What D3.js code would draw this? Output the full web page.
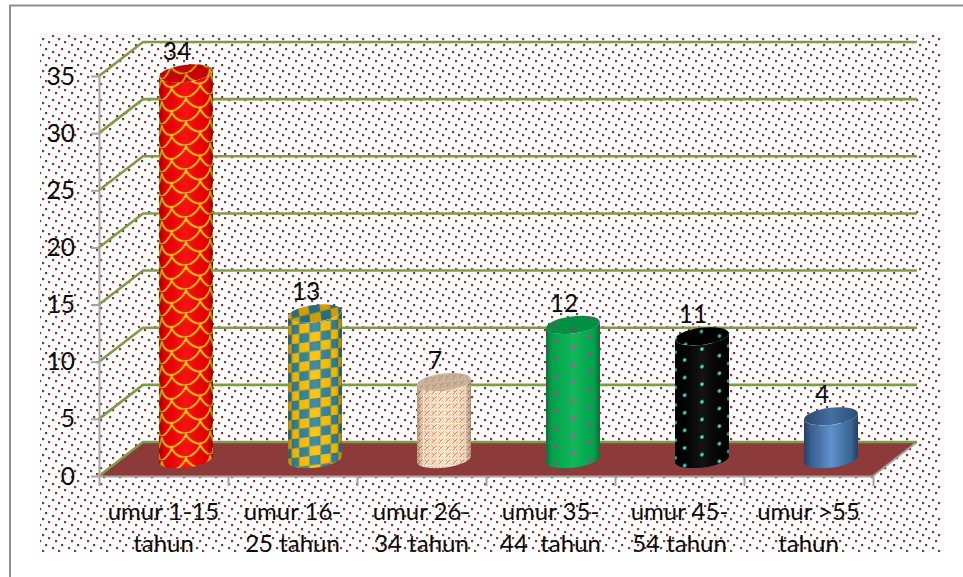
<!DOCTYPE html>
<html>
<head>
<meta charset="utf-8">
<script src="https://cdnjs.cloudflare.com/ajax/libs/d3/7.8.5/d3.min.js"></script>
<style>
html,body{margin:0;padding:0;background:#fff;overflow:hidden}
svg{display:block}
text{font-family:Lato,"Noto Sans",sans-serif;fill:#0c0c0c;white-space:pre}
</style>
</head>
<body>
<svg id="chart" width="963" height="577"></svg>
<script>
// Age groups, each split over the two lines it is set on below the axis
const categories = [
  ["umur 1-15", "tahun"],
  ["umur 16-", "25 tahun"],
  ["umur 26-", "34 tahun"],
  ["umur 35-", "44  tahun"],
  ["umur 45-", "54 tahun"],
  ["umur >55", "tahun"]
];
const values = [34, 13, 7, 12, 11, 4];
const yTicks = [0, 5, 10, 15, 20, 25, 30, 35];
const fills = ["scales", "checks", "weave", "greenDots", "blackDots", "blue"];

const W = 963, H = 577;
const plot = {left: 99, right: 873, top: 76, bottom: 476};
const depth = {x: 44, y: 34};
const cyl = {r: 27, ry: 8.5, tilt: 3.5, sink: 3};
const brown = "#8c3a3a", dotBrown = "#8f3636", grid = "#7f9a48", axisGrey = "#a3a3a3";

const svg = d3.select("#chart");
const defs = svg.append("defs");

const x = d3.scaleBand().domain(d3.range(categories.length)).range([plot.left, plot.right]);
const edge = d3.scaleLinear().domain([0, categories.length]).range([plot.left, plot.right]);
const y = d3.scaleLinear().domain([0, 35]).range([plot.bottom, plot.top]);
const cx = i => x(i) + x.bandwidth() / 2 + depth.x / 2 + 0.5;
const floorY = v => y(v) - depth.y / 2;
const topY = v => floorY(v) + cyl.sink;

// Dotted page texture: small dots on a tilted square lattice
const bg = defs.append("pattern").attr("id", "paper")
  .attr("patternUnits", "userSpaceOnUse").attr("width", 16).attr("height", 16)
  .attr("x", 10).attr("y", 6);
bg.append("rect").attr("width", 16).attr("height", 16).attr("fill", "#fff");
d3.range(5).forEach(k => bg.append("rect")
  .attr("x", Math.round((k * 6.4) % 16)).attr("y", Math.round(k * 3.2))
  .attr("width", 2.2).attr("height", 2.2).attr("fill", dotBrown));

// Wraps a flat offset around the cylinder so columns crowd towards the edges
const wrap = a => cyl.r * Math.sin(a);
const wrappedPattern = (id, i, h) => defs.append("pattern").attr("id", id)
  .attr("patternUnits", "userSpaceOnUse").attr("width", cyl.r * 2 + 2).attr("height", h)
  .attr("x", cx(i) - cyl.r - 1).attr("y", 0)
  .attr("patternTransform", `translate(0,${floorY(0)}) skewY(-7) translate(0,${-floorY(0)})`)
  .append("g").attr("transform", `translate(${cyl.r + 1},0)`);

// Red fish scales
{
  const g = wrappedPattern("scales", 0, 24);
  g.append("rect").attr("x", -cyl.r - 1).attr("width", cyl.r * 2 + 2).attr("height", 24).attr("fill", "#f40000");
  const line = d3.line();
  [0, 1].forEach(row => {
    const pts = [];
    for (let a = -90; a <= 90; a += 2) {
      const phase = (a + row * 32 + 320) % 64 / 64;
      pts.push([wrap(a * Math.PI / 180), row * 12 + 1 + 11 * Math.pow(Math.sin(phase * Math.PI), 0.7)]);
    }
    g.append("path").attr("d", line(pts)).attr("fill", "none")
      .attr("stroke", "#f7d40c").attr("stroke-width", 1.9);
  });
}

// Yellow and teal checks
{
  const g = wrappedPattern("checks", 1, 19);
  g.append("rect").attr("x", -cyl.r - 1).attr("width", cyl.r * 2 + 2).attr("height", 19).attr("fill", "#ffc000");
  d3.range(-4, 4).forEach(c => {
    const a0 = Math.max(-90, c * 24 + 12) * Math.PI / 180;
    const a1 = Math.min(90, (c + 1) * 24 + 12) * Math.PI / 180;
    g.append("rect").attr("x", wrap(a0)).attr("y", ((c % 2) + 2) % 2 ? 0 : 9.5)
      .attr("width", Math.max(0, wrap(a1) - wrap(a0))).attr("height", 9.5)
      .attr("fill", "#31849b");
  });
}

// Orange and white weave
{
  const p = defs.append("pattern").attr("id", "weave")
    .attr("patternUnits", "userSpaceOnUse").attr("width", 7).attr("height", 7);
  p.append("rect").attr("width", 7).attr("height", 7).attr("fill", "#fde4cc");
  p.append("path").attr("d", "M0,7L7,0M-1,1L1,-1M6,8L8,6").attr("stroke", "#ef8a35").attr("stroke-width", 1);
  p.append("path").attr("d", "M0,0L7,7M-1,6L1,8M6,-1L8,1").attr("stroke", "#ee9548").attr("stroke-width", 0.8);
  p.append("rect").attr("x", 2.4).attr("y", 2.4).attr("width", 2.2).attr("height", 2.2).attr("fill", "#fff");
  p.append("rect").attr("x", 0).attr("y", 0).attr("width", 1.4).attr("height", 1.4).attr("fill", "#fff");
}

// Sparse dots on solid fields
function dots(id, i, base, dot) {
  const g = wrappedPattern(id, i, 17.6);
  g.append("rect").attr("x", -cyl.r - 1).attr("width", cyl.r * 2 + 2).attr("height", 17.6).attr("fill", base);
  [-2, -1, 0, 1, 2].forEach(c => g.append("circle")
    .attr("cx", wrap(c * 40 * Math.PI / 180)).attr("cy", Math.abs(c) % 2 ? 4 : 12.8)
    .attr("r", 1.8).attr("fill", dot));
}
dots("greenDots", 3, "#00b050", "#c8389c");
dots("blackDots", 4, "#000", "#3ce6d6");

// Shading across the curved side of each cylinder
const shade = defs.append("linearGradient").attr("id", "shade");
[[0, "#000", .3], [.12, "#000", .06], [.5, "#fff", .08], [.88, "#000", .06], [1, "#000", .34]]
  .forEach(s => shade.append("stop").attr("offset", s[0]).attr("stop-color", s[1]).attr("stop-opacity", s[2]));
const blue = defs.append("linearGradient").attr("id", "blue");
[[0, "#35598a"], [.5, "#5288c6"], [1, "#36608f"]]
  .forEach(s => blue.append("stop").attr("offset", s[0]).attr("stop-color", s[1]));

// Page frame and textured panel
svg.append("rect").attr("width", W).attr("height", H).attr("fill", "#fff");
svg.append("path").attr("d", `M${W},5.5H10V${H}`).attr("fill", "none").attr("stroke", "#8f8f8f").attr("stroke-width", 2);
svg.append("rect").attr("x", 40).attr("y", 34).attr("width", 901).attr("height", 518).attr("fill", "url(#paper)");

// Floor of the 3D box
const back = (px, py) => [px + depth.x, py - depth.y];
svg.append("path").attr("fill", brown)
  .attr("d", d3.line()([[plot.left, y(0)], back(plot.left, y(0)), back(plot.right, y(0)), [plot.right, y(0)]]) + "Z");
svg.append("path").attr("fill", "none").attr("stroke", axisGrey).attr("stroke-width", 2)
  .attr("d", d3.line()([[plot.right, y(0)], back(plot.right, y(0))]));

// Gridlines along the side wall and back wall
svg.append("g").selectAll("path").data(yTicks).join("path")
  .attr("fill", "none").attr("stroke", grid).attr("stroke-width", 2.6)
  .attr("d", t => d3.line()([[plot.left, y(t)], back(plot.left, y(t)), back(plot.right, y(t))]));

// Axes
const yAxis = svg.append("g").attr("transform", `translate(${plot.left},0)`)
  .call(d3.axisLeft(y).tickValues(yTicks).tickSize(8).tickPadding(16).tickSizeOuter(0));
yAxis.selectAll("path,line").attr("stroke", axisGrey).attr("stroke-width", 2);
yAxis.selectAll("text").attr("font-size", 24.5).attr("fill", "#0c0c0c").style("font-family", "Lato").attr("dy", "0.33em");

const xAxis = svg.append("g").attr("transform", `translate(0,${plot.bottom})`)
  .call(d3.axisBottom(edge).tickValues(d3.range(categories.length + 1)).tickSize(10).tickFormat("").tickSizeOuter(0));
xAxis.selectAll("path,line").attr("stroke", axisGrey).attr("stroke-width", 2);

// Cylinders
const side = (d, i) => {
  const c = cx(i), t = topY(d), b = floorY(0);
  return `M${c - cyl.r},${t + cyl.tilt}L${c - cyl.r},${b + cyl.tilt}` +
    `A${cyl.r},${cyl.ry} -7 0 0 ${c + cyl.r} ${b - cyl.tilt}` +
    `L${c + cyl.r},${t - cyl.tilt}` +
    `A${cyl.r},${cyl.ry} -7 0 1 ${c - cyl.r} ${t + cyl.tilt}Z`;
};
const bars = svg.append("g").selectAll("g").data(values).join("g");
bars.append("path").attr("d", side).attr("fill", (d, i) => `url(#${fills[i]})`);
bars.append("path").attr("d", side).attr("fill", "url(#shade)");
const lidShape = sel => sel
  .attr("cx", (d, i) => cx(i)).attr("cy", d => topY(d))
  .attr("rx", cyl.r).attr("ry", cyl.ry)
  .attr("transform", (d, i) => `rotate(-7 ${cx(i)} ${topY(d)})`);
bars.append("ellipse").call(lidShape).attr("fill", (d, i) => `url(#${fills[i]})`);
bars.append("ellipse").call(lidShape)
  .attr("fill", (d, i) => i === 2 ? "#8a7a6a" : "#000")
  .attr("fill-opacity", (d, i) => i === 2 ? .45 : .18);

// Value labels
svg.append("g").selectAll("text").data(values).join("text")
  .attr("x", (d, i) => cx(i) - 9).attr("y", d => topY(d) - 13)
  .attr("text-anchor", "middle").attr("font-size", 24.5).text(d => d);

// Category labels
const labels = svg.append("g").selectAll("text").data(categories).join("text")
  .attr("text-anchor", "middle").attr("font-size", 24);
labels.selectAll("tspan").data((d, i) => d.map((s, n) => ({s, n, i}))).join("tspan")
  .attr("x", d => x(d.i) + x.bandwidth() / 2).attr("y", d => 520 + d.n * 32).text(d => d.s);
</script>
</body>
</html>
